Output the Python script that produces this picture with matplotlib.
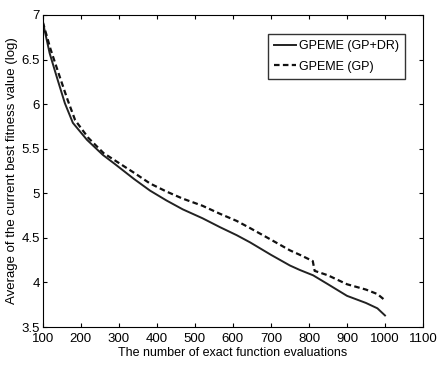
import matplotlib
matplotlib.use('Agg')
import matplotlib.pyplot as plt

# values
evals_drgp = [100, 118, 137, 158, 179, 216, 258, 289, 340, 382, 425, 468, 520, 566, 610, 645, 700, 750, 776, 811, 850, 900, 950, 980, 1000]
fit_drgp = [6.92, 6.57, 6.30, 6.01, 5.79, 5.60, 5.43, 5.33, 5.16, 5.03, 4.92, 4.82, 4.72, 4.62, 4.53, 4.45, 4.31, 4.19, 4.14, 4.08, 3.98, 3.85, 3.77, 3.71, 3.63]

evals_gp = [100, 120, 145, 165, 185, 220, 260, 300, 340, 382, 425, 468, 520, 566, 610, 645, 700, 750, 776, 810, 815, 850, 900, 950, 980, 1000]
fit_gp = [6.92, 6.62, 6.30, 6.05, 5.82, 5.62, 5.45, 5.34, 5.23, 5.11, 5.02, 4.94, 4.86, 4.77, 4.69, 4.61, 4.48, 4.36, 4.31, 4.24, 4.13, 4.08, 3.98, 3.92, 3.87, 3.80]

xticks = [100, 200, 300, 400, 500, 600, 700, 800, 900, 1000, 1100]
yticks = [3.5, 4, 4.5, 5, 5.5, 6, 6.5, 7]
ytick_labels = ['3.5', '4', '4.5', '5', '5.5', '6', '6.5', '7']

plt.rcParams['font.family'] = ['Liberation Sans', 'DejaVu Sans']

fig = plt.figure(figsize=(4.37, 3.65), dpi=100)
ax = fig.add_axes([0.098, 0.104, 0.87, 0.855])

ax.plot(evals_drgp, fit_drgp, c='#222222', lw=1.4, label='GPEME (GP+DR)')
ax.plot(evals_gp, fit_gp, c='#111111', lw=1.6, ls=(0, (2.5, 1.5)), label='GPEME (GP)')

ax.set_xlim(100, 1100)
ax.set_ylim(3.5, 7)
ax.set_xticks(xticks)
ax.set_yticks(yticks)
ax.set_yticklabels(ytick_labels)
ax.tick_params(direction='in', top=True, right=True, labelsize=9.5, length=3)
ax.tick_params(axis='x', pad=4)
ax.tick_params(axis='y', pad=2)
ax.set_xlabel('The number of exact function evaluations', fontsize=9, labelpad=2)
ax.set_ylabel('Average of the current best fitness value (log)', fontsize=9.5, labelpad=3)

leg = ax.legend(loc='upper right', bbox_to_anchor=(0.953, 0.94), borderaxespad=0,
                fontsize=9, fancybox=False, edgecolor='black', handlelength=1.8,
                handletextpad=0.2, borderpad=0.5, labelspacing=0.7)
leg.get_frame().set_linewidth(1.0)

plt.savefig('out.png')
